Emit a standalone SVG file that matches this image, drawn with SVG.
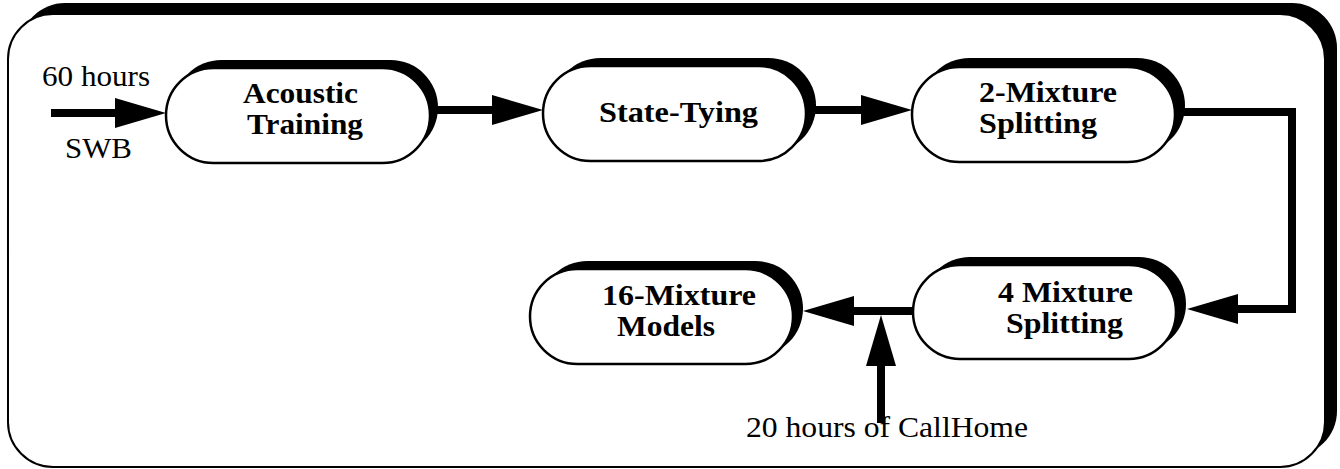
<svg xmlns="http://www.w3.org/2000/svg" width="1340" height="469" viewBox="0 0 1340 469">
<style>
.shadow{fill:#000}
.body{fill:#fff;stroke:#000;stroke-width:2.5}
.frame{fill:#fff;stroke:#000;stroke-width:2}
.lbl{font-family:"Liberation Serif","Times New Roman",serif;font-weight:bold;font-size:29px;fill:#000}
.txt{font-family:"Liberation Serif","Times New Roman",serif;font-size:30px;fill:#000}
.conn{fill:none;stroke:#000;stroke-width:8;stroke-linejoin:miter;stroke-linecap:butt}
</style>
<defs>
<marker id="arr" markerUnits="userSpaceOnUse" markerWidth="52" markerHeight="30" refX="20" refY="15" orient="auto" overflow="visible">
<path d="M0,0 L51,15 L0,30 z" fill="#000"/>
</marker>
</defs>
<g id="frame">
<rect class="shadow" x="20" y="3" width="1317" height="453" rx="45" ry="45"/>
<rect class="frame" x="8" y="14" width="1317" height="453" rx="45" ry="45"/>
</g>
<g id="connectors">
<line class="conn" x1="51" y1="113" x2="135" y2="113" marker-end="url(#arr)"/>
<line class="conn" x1="436" y1="110" x2="512" y2="110" stroke-width="9" marker-end="url(#arr)"/>
<line class="conn" x1="814" y1="110" x2="881" y2="110" stroke-width="9" marker-end="url(#arr)"/>
<polyline class="conn" points="1183,112 1292,112 1292,309 1218,309" marker-end="url(#arr)"/>
<line class="conn" x1="913" y1="311" x2="834" y2="311" marker-end="url(#arr)"/>
<line class="conn" x1="881" y1="423" x2="881" y2="346" marker-end="url(#arr)"/>
</g>
<g id="node-acoustic">
<rect class="shadow" x="174" y="60" width="264" height="95" rx="47.5"/>
<rect class="body" x="166" y="68" width="264" height="95" rx="47.5"/>
<text class="lbl" x="243" y="103" textLength="115" lengthAdjust="spacingAndGlyphs">Acoustic</text>
<text class="lbl" x="247" y="134" textLength="116" lengthAdjust="spacingAndGlyphs">Training</text>
</g>
<g id="node-statetying">
<rect class="shadow" x="553" y="58" width="263" height="95" rx="47.5"/>
<rect class="body" x="543" y="66" width="263" height="95" rx="47.5"/>
<text class="lbl" x="599" y="122" textLength="159" lengthAdjust="spacingAndGlyphs">State-Tying</text>
</g>
<g id="node-2mix">
<rect class="shadow" x="922" y="58" width="263" height="95" rx="47.5"/>
<rect class="body" x="912" y="67" width="263" height="95" rx="47.5"/>
<text class="lbl" x="979" y="102" textLength="138" lengthAdjust="spacingAndGlyphs">2-Mixture</text>
<text class="lbl" x="979" y="133" textLength="118" lengthAdjust="spacingAndGlyphs">Splitting</text>
</g>
<g id="node-4mix">
<rect class="shadow" x="923" y="257" width="263" height="94" rx="47"/>
<rect class="body" x="913" y="265" width="263" height="94" rx="47"/>
<text class="lbl" x="998" y="302" textLength="135" lengthAdjust="spacingAndGlyphs">4 Mixture</text>
<text class="lbl" x="1006" y="333" textLength="117" lengthAdjust="spacingAndGlyphs">Splitting</text>
</g>
<g id="node-16mix">
<rect class="shadow" x="540" y="261" width="263" height="95" rx="47.5"/>
<rect class="body" x="530" y="269" width="263" height="95" rx="47.5"/>
<text class="lbl" x="602" y="305" textLength="154" lengthAdjust="spacingAndGlyphs">16-Mixture</text>
<text class="lbl" x="617" y="336" textLength="98" lengthAdjust="spacingAndGlyphs">Models</text>
</g>
<g id="labels">
<text class="txt" x="42" y="86" textLength="108" lengthAdjust="spacingAndGlyphs">60 hours</text>
<text class="txt" x="65" y="158" textLength="67" lengthAdjust="spacingAndGlyphs">SWB</text>
<text class="txt" x="746" y="437" textLength="282" lengthAdjust="spacingAndGlyphs">20 hours of CallHome</text>
</g>
</svg>
